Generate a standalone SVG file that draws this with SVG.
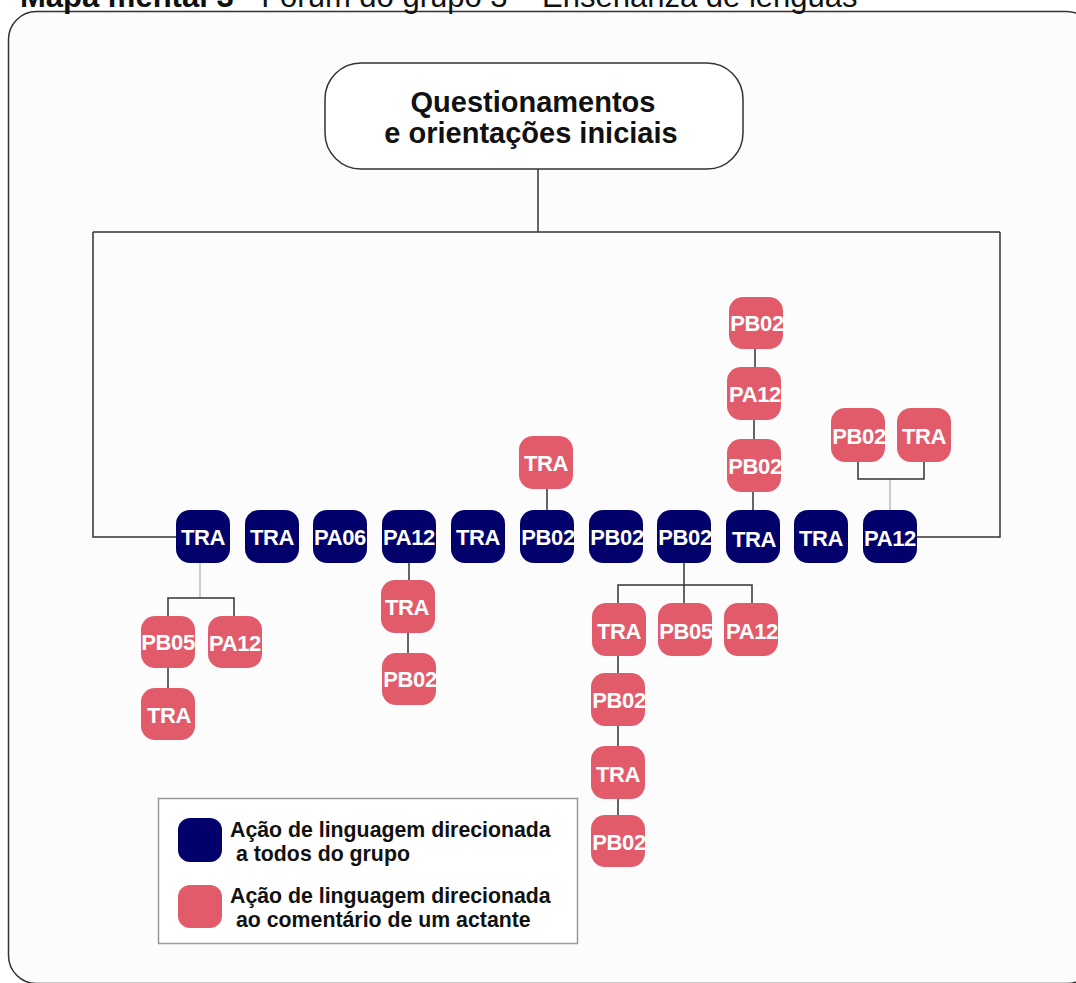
<svg xmlns="http://www.w3.org/2000/svg" width="1076" height="983" viewBox="0 0 1076 983">
<style>
.n{fill:#02006b}
.p{fill:#e25b6b}
.lbl{font-family:"Liberation Sans",Arial,sans-serif;font-weight:bold;font-size:22px;fill:#ffffff;text-anchor:middle;letter-spacing:-0.4px}
.c{stroke:#333;stroke-width:1.5;fill:none}
.cl{stroke:#bbbbbb;stroke-width:1.5;fill:none}
.t{font-family:"Liberation Sans",Arial,sans-serif;fill:#111}
</style>
<rect x="0" y="0" width="1076" height="983" fill="#ffffff"/>
<rect x="8.5" y="11.5" width="1086" height="972" rx="28" fill="#fcfcfc" stroke="#333" stroke-width="1.5"/>
<text class="t" x="20" y="7" font-size="31"><tspan font-weight="bold">Mapa mental 3</tspan> - Fórum do grupo 3 – Enseñanza de lenguas</text>

<g id="connectors">
<path class="c" d="M538,169 V232 M93,232 H1000 M93,232 V537 H176 M1000,232 V537 H917"/>
<path class="cl" d="M200,563 V598 M890,479 V510"/>
<path class="c" d="M168,616 V598 H234 V616 M168,668 V688"/>
<path class="c" d="M409,563 V580 M408,633 V653"/>
<path class="c" d="M547,489 V510"/>
<path class="c" d="M753,492 V510 M754,420 V439 M755,349 V367"/>
<path class="c" d="M858,462 V479 H924 V462"/>
<path class="c" d="M684,563 V603 M618,603 V585 H752 V603"/>
<path class="c" d="M618,656 V673 M618,726 V746 M618,799 V815"/>
</g>

<g id="root">
<rect x="325" y="63" width="418" height="106" rx="36" fill="#ffffff" stroke="#333" stroke-width="1.5"/>
<text class="t" x="533" y="112" font-size="29" font-weight="bold" text-anchor="middle">Questionamentos</text>
<text class="t" x="531" y="143" font-size="29" font-weight="bold" text-anchor="middle">e orientações iniciais</text>
</g>

<g id="n1"><rect class="n" x="176" y="510" width="54" height="53" rx="14"/><text class="lbl" x="203" y="545">TRA</text></g>
<g id="n2"><rect class="n" x="245" y="510" width="54" height="53" rx="14"/><text class="lbl" x="272" y="545">TRA</text></g>
<g id="n3"><rect class="n" x="313" y="510" width="54" height="53" rx="14"/><text class="lbl" x="340" y="545">PA06</text></g>
<g id="n4"><rect class="n" x="382" y="510" width="54" height="53" rx="14"/><text class="lbl" x="409" y="545">PA12</text></g>
<g id="n5"><rect class="n" x="451" y="510" width="54" height="53" rx="14"/><text class="lbl" x="478" y="545">TRA</text></g>
<g id="n6"><rect class="n" x="520" y="510" width="54" height="53" rx="14"/><text class="lbl" x="548" y="545">PB02</text></g>
<g id="n7"><rect class="n" x="589" y="510" width="54" height="53" rx="14"/><text class="lbl" x="617" y="545">PB02</text></g>
<g id="n8"><rect class="n" x="657" y="510" width="54" height="53" rx="14"/><text class="lbl" x="685" y="545">PB02</text></g>
<g id="n9"><rect class="n" x="726" y="510" width="54" height="53" rx="14"/><text class="lbl" x="754" y="547">TRA</text></g>
<g id="n10"><rect class="n" x="794" y="510" width="54" height="53" rx="14"/><text class="lbl" x="821" y="546">TRA</text></g>
<g id="n11"><rect class="n" x="863" y="510" width="54" height="53" rx="14"/><text class="lbl" x="890" y="546">PA12</text></g>

<g id="p1"><rect class="p" x="141" y="616" width="54" height="52" rx="14"/><text class="lbl" x="168" y="650">PB05</text></g>
<g id="p2"><rect class="p" x="208" y="616" width="54" height="52" rx="14"/><text class="lbl" x="235" y="651">PA12</text></g>
<g id="p3"><rect class="p" x="141" y="688" width="54" height="52" rx="14"/><text class="lbl" x="169" y="723">TRA</text></g>
<g id="p4"><rect class="p" x="381" y="580" width="54" height="53" rx="14"/><text class="lbl" x="407" y="615">TRA</text></g>
<g id="p5"><rect class="p" x="382" y="653" width="54" height="52" rx="14"/><text class="lbl" x="410" y="687">PB02</text></g>
<g id="p6"><rect class="p" x="519" y="436" width="54" height="53" rx="14"/><text class="lbl" x="546" y="471">TRA</text></g>
<g id="p7"><rect class="p" x="727" y="439" width="54" height="53" rx="14"/><text class="lbl" x="755" y="474">PB02</text></g>
<g id="p8"><rect class="p" x="727" y="367" width="54" height="53" rx="14"/><text class="lbl" x="755" y="402">PA12</text></g>
<g id="p9"><rect class="p" x="729" y="297" width="54" height="52" rx="14"/><text class="lbl" x="757" y="331">PB02</text></g>
<g id="p10"><rect class="p" x="831" y="408" width="54" height="54" rx="14"/><text class="lbl" x="859" y="444">PB02</text></g>
<g id="p11"><rect class="p" x="897" y="408" width="54" height="54" rx="14"/><text class="lbl" x="924" y="444">TRA</text></g>
<g id="p12"><rect class="p" x="592" y="603" width="54" height="53" rx="14"/><text class="lbl" x="619" y="639">TRA</text></g>
<g id="p13"><rect class="p" x="658" y="603" width="54" height="53" rx="14"/><text class="lbl" x="686" y="639">PB05</text></g>
<g id="p14"><rect class="p" x="724" y="603" width="54" height="53" rx="14"/><text class="lbl" x="752" y="639">PA12</text></g>
<g id="p15"><rect class="p" x="591" y="673" width="54" height="53" rx="14"/><text class="lbl" x="619" y="708">PB02</text></g>
<g id="p16"><rect class="p" x="591" y="746" width="54" height="53" rx="14"/><text class="lbl" x="618" y="782">TRA</text></g>
<g id="p17"><rect class="p" x="591" y="815" width="54" height="52" rx="14"/><text class="lbl" x="619" y="850">PB02</text></g>

<g id="legend">
<rect x="158.5" y="798.5" width="419" height="145" fill="#ffffff" stroke="#999" stroke-width="1.5"/>
<rect class="n" x="178" y="818" width="44" height="44" rx="12"/>
<rect class="p" x="178" y="885" width="44" height="43" rx="12"/>
<text class="t" x="230" y="837" font-size="21.3" font-weight="bold">Ação de linguagem direcionada</text>
<text class="t" x="236" y="861" font-size="21.3" font-weight="bold">a todos do grupo</text>
<text class="t" x="230" y="903" font-size="21.3" font-weight="bold">Ação de linguagem direcionada</text>
<text class="t" x="236" y="927" font-size="21.3" font-weight="bold">ao comentário de um actante</text>
</g>
</svg>
